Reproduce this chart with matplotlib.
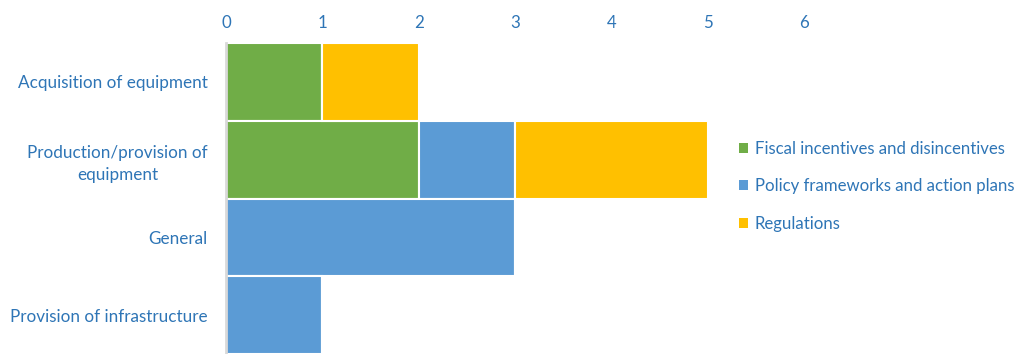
import matplotlib
matplotlib.use("Agg")
import matplotlib.pyplot as plt
from matplotlib.patches import Patch

categories = ["Acquisition of equipment", "Production/provision of\nequipment", "General", "Provision of infrastructure"]
series_names = ["Fiscal incentives and disincentives", "Policy frameworks and action plans", "Regulations"]
fiscal = [1, 2, 0, 0]
policy = [0, 1, 3, 1]
regulations = [1, 2, 0, 0]
xticks = [0, 1, 2, 3, 4, 5, 6]

colors = ["#70AD47", "#5B9BD5", "#FFC000"]
text_color = "#2E75B6"

plt.rcParams['font.family'] = ['Lato', 'DejaVu Sans']

fig = plt.figure(figsize=(10.23, 3.54), dpi=100)
ax = fig.add_axes([226/1023, 0.0, (804-226)/1023, 1 - 43/354])

ypos = list(range(len(categories)))
left = [0]*len(categories)
for vals, c in zip([fiscal, policy, regulations], colors):
    ax.barh(ypos, vals, left=left, height=1.0, color=c, edgecolor="white", linewidth=1.5)
    left = [l + v for l, v in zip(left, vals)]

ax.set_ylim(3.5, -0.5)
ax.set_xlim(0, 6)
ax.set_xticks(xticks)
ax.xaxis.tick_top()
ax.tick_params(axis='x', length=0, pad=9, labelsize=12.2, labelcolor=text_color)
ax.set_yticks(ypos)
ax.set_yticklabels(categories)
for t in ax.get_yticklabels():
    t.set_multialignment('center')
    t.set_linespacing(1.45)
ax.tick_params(axis='y', length=0, pad=13, labelsize=12.3, labelcolor=text_color)
for s in ["top", "right", "bottom"]:
    ax.spines[s].set_visible(False)
ax.spines["left"].set_color("#D9D9D9")
ax.spines["left"].set_linewidth(2)

handles = [Patch(facecolor=c, edgecolor="none") for c in colors]
leg = fig.legend(handles, series_names, loc="upper left", bbox_to_anchor=(732/1023, 1 - 134/354),
                 frameon=False, fontsize=12.1, handlelength=0.55, handleheight=0.55,
                 handletextpad=0.4, labelspacing=1.28, borderaxespad=0)
for t in leg.get_texts():
    t.set_color(text_color)

fig.savefig("out.png", dpi=100)
